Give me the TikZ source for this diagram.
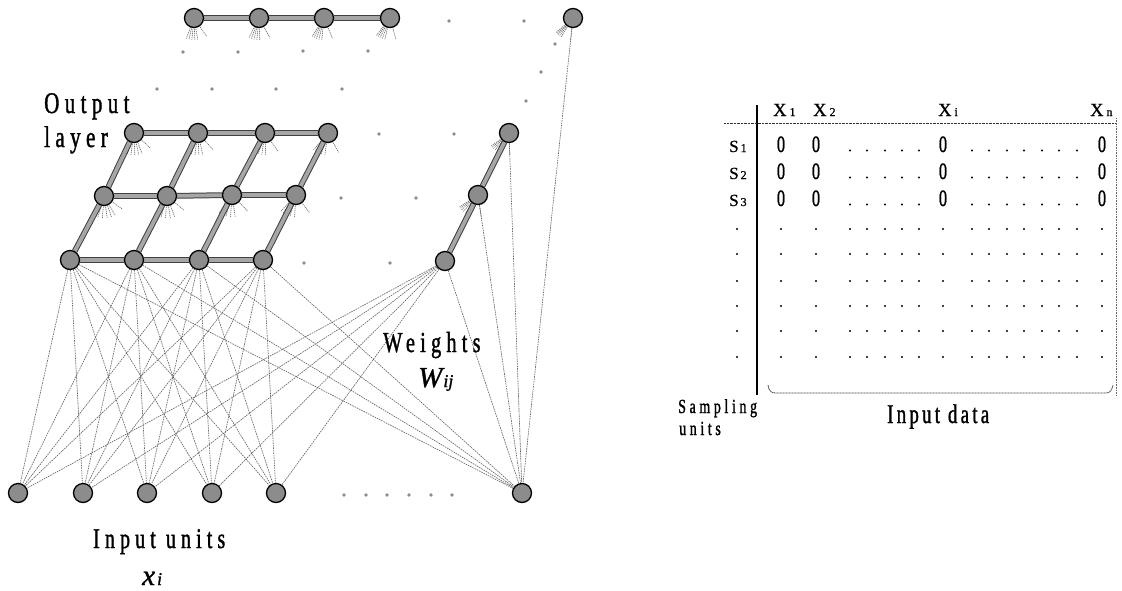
\documentclass[tikz,border=0pt]{standalone}
\usepackage{fontspec}
\setmainfont{Liberation Serif}
\newfontfamily\lblfont[FakeStretch=0.7,LetterSpace=18,FakeBold=1.2]{Liberation Serif}
\newfontfamily\datafont[FakeStretch=0.7,LetterSpace=12,FakeBold=1.2]{Liberation Serif}
\newfontfamily\tabfont[FakeBold=0.8]{Liberation Serif}
\newfontfamily\cellfont[FakeStretch=0.7,FakeBold=0.8]{Liberation Serif}
\newfontfamily\mathlbl[FakeBold=1.2]{Liberation Serif Italic}
\usetikzlibrary{calc,backgrounds}

\begin{document}
\begin{tikzpicture}[x=1pt,y=-1pt,
  unit/.style={circle,fill=black!45,draw=black,line width=1.3pt,minimum size=19pt,inner sep=0pt},
  link/.style={draw=black!75,line width=1pt,double=gray!70,double distance=3.8pt},
  wline/.style={draw=black!60,line width=0.65pt,dash pattern=on 1.6pt off 0.9pt},
  fan/.style={draw=black!60,line width=0.6pt,dash pattern=on 1.2pt off 0.8pt},
  ghost/.style={fill=black!45},
  lbl/.style={inner sep=0pt,anchor=base west,font={\lblfont\fontsize{30}{32}\selectfont}},
  sublbl/.style={inner sep=0pt,anchor=base west,font={\mathlbl\fontsize{29}{30}\selectfont}},
  hdr/.style={inner sep=0pt,anchor=base west,font={\tabfont\fontsize{18.5}{20}\selectfont}},
  rowlbl/.style={inner sep=0pt,anchor=base west,font={\tabfont\fontsize{17}{20}\selectfont}},
  cell/.style={inner sep=0pt,anchor=base,font={\cellfont\fontsize{23.5}{24}\selectfont}},
  tdot/.style={fill=black}
]
\useasboundingbox (0,0) rectangle (1122,590);

% ---------- output layer ----------
% far row
\node[unit] (t1) at (194,18) {};
\node[unit] (t2) at (259,18) {};
\node[unit] (t3) at (324,18) {};
\node[unit] (t4) at (390,18) {};
\node[unit] (tn) at (573,18) {};
% top row of the grid
\node[unit] (g31) at (134,133) {};
\node[unit] (g32) at (198,133) {};
\node[unit] (g33) at (265,133) {};
\node[unit] (g34) at (328,133) {};
\node[unit] (g3n) at (509,133) {};
% middle row
\node[unit] (g21) at (104,196) {};
\node[unit] (g22) at (167,196) {};
\node[unit] (g23) at (232,195) {};
\node[unit] (g24) at (296,195) {};
\node[unit] (g2n) at (478,195) {};
% front row
\node[unit] (g11) at (70,260) {};
\node[unit] (g12) at (134,260) {};
\node[unit] (g13) at (199,260) {};
\node[unit] (g14) at (263,260) {};
\node[unit] (g1n) at (445,261) {};

% ---------- input units ----------
\node[unit] (i1) at (18,493) {};
\node[unit] (i2) at (83,493) {};
\node[unit] (i3) at (147,493) {};
\node[unit] (i4) at (212,493) {};
\node[unit] (i5) at (276,493) {};
\node[unit] (in) at (522,493) {};

% omitted units
\foreach \p in {(449,21),(524,21),(183,52),(238,52),(303,51),(368,51),(555,44),
  (157,89),(212,89),(276,89),(342,89),(541,72),(526,101),
  (379,134),(454,134),(341,198),(416,198),(304,263),(390,263)}
  \fill[ghost] \p circle (1.9);
\foreach \x in {344,366,387,409,431,452}
  \fill[ghost] (\x,495) circle (1.9);

\begin{scope}[on background layer]
  % weights from the front row to every input
  \foreach \o in {g11,g12,g13,g14,g1n}
    \foreach \i in {i1,i2,i3,i4,i5,in}
      \draw[wline] (\o) -- (\i);
  \foreach \o in {g2n,g3n,tn}
    \draw[wline] (\o) -- (in);
  % starts of the hidden weights
  \foreach \o in {t1,t2,t3,t4,tn,g31,g32,g33,g34,g3n,g21,g22,g23,g24,g2n}
    \foreach \i in {i1,i2,i3,i4,i5,in}
      \draw[fan] ($(\o)!7pt!(\i)$) -- ($(\o)!22pt!(\i)$);
  % lattice links
  \draw[link] (t1) -- (t2) -- (t3) -- (t4);
  \draw[link] (g31) -- (g32) -- (g33) -- (g34);
  \draw[link] (g21) -- (g22) -- (g23) -- (g24);
  \draw[link] (g11) -- (g12) -- (g13) -- (g14);
  \draw[link] (g11) -- (g21) -- (g31);
  \draw[link] (g12) -- (g22) -- (g32);
  \draw[link] (g13) -- (g23) -- (g33);
  \draw[link] (g14) -- (g24) -- (g34);
  \draw[link] (g1n) -- (g2n) -- (g3n);
\end{scope}

% ---------- labels ----------
\node[lbl] (outlbl) at (44,113) {Output};
\node[lbl] (laylbl) at (44,147) {layer};
\node[lbl,font={\lblfont\fontsize{28.5}{30}\selectfont}] (inlbl) at (93,548) {Input units};
\node[sublbl] (xlbl) at (142,585) {x\hspace{2pt}{\fontsize{18}{18}\selectfont i}};
\node[lbl,font={\lblfont\fontsize{29}{30}\selectfont}] (wlbl) at (383,352) {Weights};
\node[sublbl] (wij) at (418,387) {W\hspace{1pt}{\fontsize{18}{18}\selectfont ij}};

% ---------- data matrix ----------
\draw[black,line width=1.2pt] (757,105) -- (757,395);
\draw[black!80,line width=0.7pt,dash pattern=on 0.8pt off 0.6pt] (724,123) -- (1116,123);
\draw[black!60,line width=0.7pt,dash pattern=on 0.8pt off 0.8pt] (1116,118) -- (1116,395);

\node[hdr] (hx1) at (773,116) {X\hspace{3pt}{\fontsize{12}{12}\selectfont 1}};
\node[hdr] (hx2) at (813,116) {X\hspace{3pt}{\fontsize{12}{12}\selectfont 2}};
\node[hdr] (hxi) at (938,116) {X\hspace{3pt}{\fontsize{12}{12}\selectfont i}};
\node[hdr] (hxn) at (1090,116) {X\hspace{3pt}{\fontsize{12}{12}\selectfont n}};

\foreach \r/\y in {1/152,2/179,3/206} {
  \node[rowlbl] (s\r) at (729,\y) {S\hspace{2pt}{\fontsize{12}{12}\selectfont \r}};
  \foreach \c/\x in {a/781,b/816,c/943,d/1102}
    \node[cell] (z\r\c) at (\x,\y) {0};
  \foreach \x in {850,867,885,902,919,972,989,1007,1024,1042,1059,1077}
    \fill[tdot] (\x,\y-1.5) circle (1.2);
}
\foreach \y in {229,254,281,306,331,357} {
  \fill[tdot] (737,\y) circle (1.2);
  \foreach \x in {781,816,850,867,885,902,919,943,972,989,1007,1024,1042,1059,1077,1102}
    \fill[tdot] (\x,\y) circle (1.2);
}

% brace under the data
\draw[black!75,line width=0.8pt,dash pattern=on 1pt off 0.5pt]
  (768,385) .. controls (769,391) and (771,393) .. (776,393) -- (1106,393)
  .. controls (1110,393) and (1112,390) .. (1113,385);

\node[inner sep=0pt,anchor=base west,font={\datafont\fontsize{27}{28}\selectfont}] (datalbl) at (887,423) {Input data};
\node[lbl,font={\lblfont\fontsize{20}{22}\selectfont}] (samplbl) at (678,413) {Sampling};
\node[lbl,font={\lblfont\fontsize{20}{22}\selectfont}] (unitlbl) at (679,435) {units};
\end{tikzpicture}
\end{document}
